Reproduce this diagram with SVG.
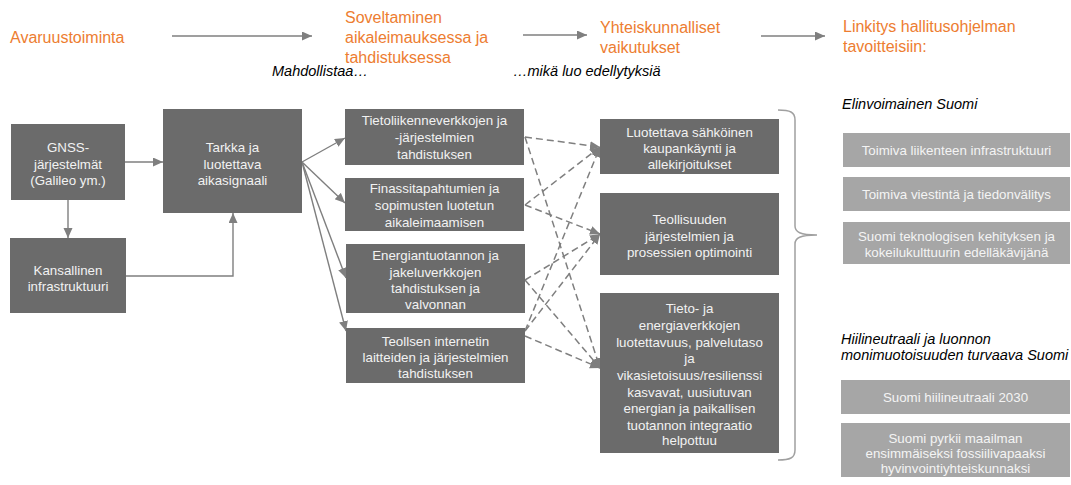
<svg xmlns="http://www.w3.org/2000/svg" width="1071" height="485" viewBox="0 0 1071 485">
<style>
text{font-family:"Liberation Sans",Arial,sans-serif}
.hdr{fill:#ED7D31;font-size:16px}
.it{fill:#000;font-size:14.5px;font-style:italic}
.node{fill:#6b6b6b}
.goal{fill:#a6a6a6}
.nt{fill:#f2f2f2;font-size:13.33px;text-anchor:middle}
.gt{fill:#f4f4f4;font-size:13.33px;text-anchor:middle}
.ln{fill:none;stroke:#7f7f7f;stroke-width:1.4}
.dash{stroke-dasharray:7 4;stroke-width:1.5}
.brace{fill:none;stroke:#a0a0a0;stroke-width:1.5}
</style>
<defs>
<marker id="ah" markerUnits="userSpaceOnUse" markerWidth="12" markerHeight="10" refX="10" refY="4.5" orient="auto">
<path d="M0,0 L10,4.5 L0,9 z" fill="#7f7f7f"/>
</marker>
</defs>

<g id="headers">
<text class="hdr" x="10" y="43">Avaruustoiminta</text>
<text class="hdr" x="345" y="23">Soveltaminen</text>
<text class="hdr" x="345" y="43">aikaleimauksessa ja</text>
<text class="hdr" x="345" y="63">tahdistuksessa</text>
<text class="hdr" x="600" y="33">Yhteiskunnalliset</text>
<text class="hdr" x="600" y="53">vaikutukset</text>
<text class="hdr" x="843" y="32">Linkitys hallitusohjelman</text>
<text class="hdr" x="843" y="52">tavoitteisiin:</text>
<text class="it" x="272" y="76">Mahdollistaa…</text>
<text class="it" x="513" y="76">…mikä luo edellytyksiä</text>
<text class="it" x="842" y="109">Elinvoimainen Suomi</text>
<text class="it" x="841" y="344">Hiilineutraali ja luonnon</text>
<text class="it" x="841" y="360">monimuotoisuuden turvaava Suomi</text>
</g>

<g id="connectors">
<line class="ln" x1="172" y1="36" x2="312" y2="36" marker-end="url(#ah)"/>
<line class="ln" x1="523" y1="35" x2="587" y2="35" marker-end="url(#ah)"/>
<line class="ln" x1="761" y1="36" x2="825" y2="36" marker-end="url(#ah)"/>
<line class="ln" x1="125" y1="162" x2="163" y2="162" marker-end="url(#ah)"/>
<line class="ln" x1="68" y1="200" x2="68" y2="238" marker-end="url(#ah)"/>
<polyline class="ln" points="126,276 233,276 233,213" marker-end="url(#ah)"/>
<line class="ln" x1="302" y1="162" x2="345" y2="138" marker-end="url(#ah)"/>
<line class="ln" x1="302" y1="162" x2="345" y2="203" marker-end="url(#ah)"/>
<line class="ln" x1="302" y1="162" x2="346" y2="278" marker-end="url(#ah)"/>
<line class="ln" x1="302" y1="162" x2="346" y2="331" marker-end="url(#ah)"/>
<line class="ln dash" x1="525" y1="137" x2="600" y2="147" marker-end="url(#ah)"/>
<line class="ln dash" x1="525" y1="137" x2="600" y2="368" marker-end="url(#ah)"/>
<line class="ln dash" x1="525" y1="205" x2="600" y2="147" marker-end="url(#ah)"/>
<line class="ln dash" x1="525" y1="205" x2="600" y2="234" marker-end="url(#ah)"/>
<line class="ln dash" x1="525" y1="280" x2="600" y2="234" marker-end="url(#ah)"/>
<line class="ln dash" x1="525" y1="280" x2="600" y2="368" marker-end="url(#ah)"/>
<line class="ln dash" x1="525" y1="331" x2="600" y2="147" marker-end="url(#ah)"/>
<line class="ln dash" x1="525" y1="331" x2="600" y2="234" marker-end="url(#ah)"/>
<line class="ln dash" x1="525" y1="336" x2="600" y2="368" marker-end="url(#ah)"/>
<path class="brace" d="M778,110 C790,110 795,112 795,120 L795,226 C795,232 800,235 817,235 C800,235 795,238 795,244 L795,450 C795,458 790,460 778,460"/>
</g>

<g id="gnss">
<rect class="node" x="11" y="124" width="114" height="76"/>
<text class="nt" x="68" y="152">GNSS-</text>
<text class="nt" x="68" y="168.5">järjestelmät</text>
<text class="nt" x="68" y="185">(Galileo ym.)</text>
</g>
<g id="kansallinen">
<rect class="node" x="10" y="238" width="116" height="75"/>
<text class="nt" x="68" y="275">Kansallinen</text>
<text class="nt" x="68" y="291">infrastruktuuri</text>
</g>
<g id="tarkka">
<rect class="node" x="163" y="109" width="139" height="104"/>
<text class="nt" x="232.5" y="152">Tarkka ja</text>
<text class="nt" x="232.5" y="168.5">luotettava</text>
<text class="nt" x="232.5" y="185">aikasignaali</text>
</g>

<g id="tietoliikenne">
<rect class="node" x="345" y="109" width="179" height="56"/>
<text class="nt" x="434.5" y="125">Tietoliikenneverkkojen ja</text>
<text class="nt" x="434.5" y="142">-järjestelmien</text>
<text class="nt" x="434.5" y="159">tahdistuksen</text>
</g>
<g id="finassi">
<rect class="node" x="345" y="178" width="179" height="53"/>
<text class="nt" x="434.5" y="193">Finassitapahtumien ja</text>
<text class="nt" x="434.5" y="210">sopimusten luotetun</text>
<text class="nt" x="434.5" y="226.5">aikaleimaamisen</text>
</g>
<g id="energia">
<rect class="node" x="346" y="244" width="179" height="69"/>
<text class="nt" x="435.5" y="260">Energiantuotannon ja</text>
<text class="nt" x="435.5" y="277">jakeluverkkojen</text>
<text class="nt" x="435.5" y="293">tahdistuksen ja</text>
<text class="nt" x="435.5" y="309">valvonnan</text>
</g>
<g id="teollsen">
<rect class="node" x="346" y="328" width="179" height="55"/>
<text class="nt" x="435.5" y="346">Teollsen internetin</text>
<text class="nt" x="435.5" y="362">laitteiden ja järjestelmien</text>
<text class="nt" x="435.5" y="377.5">tahdistuksen</text>
</g>

<g id="luotettava">
<rect class="node" x="600" y="119" width="179" height="55"/>
<text class="nt" x="689.5" y="137">Luotettava sähköinen</text>
<text class="nt" x="689.5" y="153">kaupankäynti ja</text>
<text class="nt" x="689.5" y="169">allekirjoitukset</text>
</g>
<g id="teollisuuden">
<rect class="node" x="600" y="193" width="179" height="82"/>
<text class="nt" x="689.5" y="224">Teollisuuden</text>
<text class="nt" x="689.5" y="240.5">järjestelmien ja</text>
<text class="nt" x="689.5" y="257">prosessien optimointi</text>
</g>
<g id="tieto">
<rect class="node" x="600" y="293" width="179" height="160"/>
<text class="nt" x="689.5" y="313">Tieto- ja</text>
<text class="nt" x="689.5" y="329.5">energiaverkkojen</text>
<text class="nt" x="689.5" y="346.5">luotettavuus, palvelutaso</text>
<text class="nt" x="689.5" y="363">ja</text>
<text class="nt" x="689.5" y="380">vikasietoisuus/resilienssi</text>
<text class="nt" x="689.5" y="396.5">kasvavat, uusiutuvan</text>
<text class="nt" x="689.5" y="413">energian ja paikallisen</text>
<text class="nt" x="689.5" y="429.5">tuotannon integraatio</text>
<text class="nt" x="689.5" y="445">helpottuu</text>
</g>

<g id="goal1">
<rect class="goal" x="843" y="133" width="227" height="34"/>
<text class="gt" x="956.5" y="155">Toimiva liikenteen infrastruktuuri</text>
</g>
<g id="goal2">
<rect class="goal" x="843" y="177" width="227" height="34"/>
<text class="gt" x="956.5" y="199">Toimiva viestintä ja tiedonvälitys</text>
</g>
<g id="goal3">
<rect class="goal" x="843" y="222" width="227" height="42"/>
<text class="gt" x="956.5" y="241">Suomi teknologisen kehityksen ja</text>
<text class="gt" x="956.5" y="257">kokeilukulttuurin edelläkävijänä</text>
</g>
<g id="goal4">
<rect class="goal" x="841" y="380" width="229" height="34"/>
<text class="gt" x="955.5" y="402">Suomi hiilineutraali 2030</text>
</g>
<g id="goal5">
<rect class="goal" x="841" y="423" width="229" height="54"/>
<text class="gt" x="955.5" y="443">Suomi pyrkii maailman</text>
<text class="gt" x="955.5" y="458">ensimmäiseksi fossiilivapaaksi</text>
<text class="gt" x="955.5" y="473">hyvinvointiyhteiskunnaksi</text>
</g>
</svg>
